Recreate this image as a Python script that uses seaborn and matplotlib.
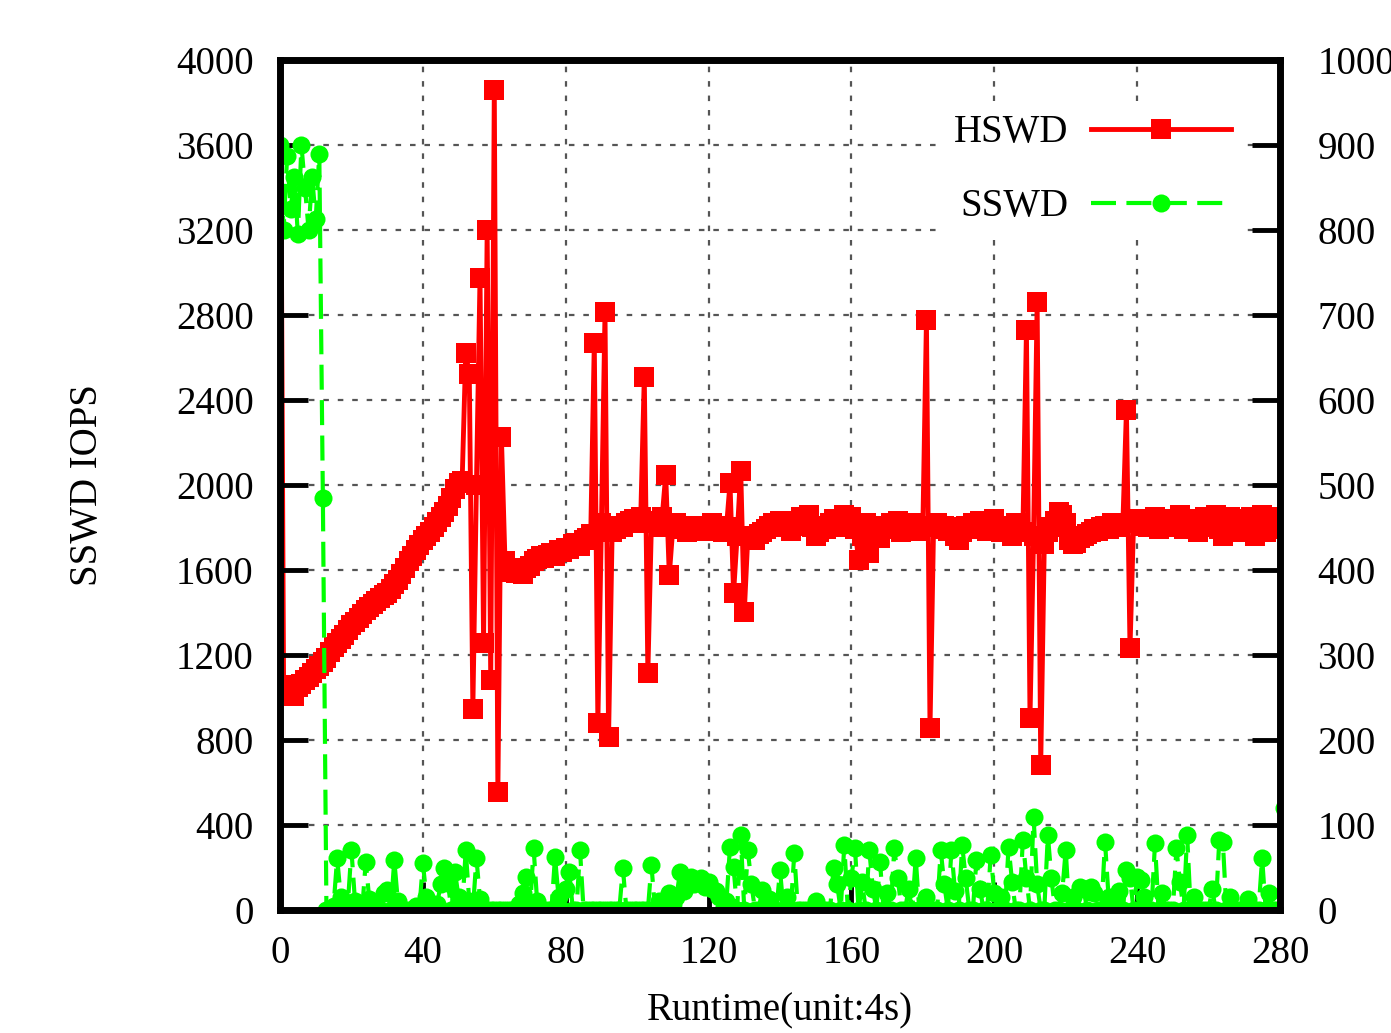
import numpy as np
import pandas as pd
import matplotlib
matplotlib.use("Agg")
import matplotlib.pyplot as plt
import seaborn as sns

# ---------------- data ----------------
runtime_ticks = [0, 40, 80, 120, 160, 200, 240, 280]
sswd_ticks = [0, 400, 800, 1200, 1600, 2000, 2400, 2800, 3200, 3600, 4000]
hswd_ticks = [0, 100, 200, 300, 400, 500, 600, 700, 800, 900, 1000]

# SSWD IOPS (left axis), one value per runtime unit (0..281)
sswd_iops = [
    3600, 3200, 3550, 3300, 3450, 3180, 3600, 3400, 3200, 3450,
    3250, 3560, 1940, 0, 0, 20, 245, 60, 0, 30,
    282, 40, 0, 0, 226, 50, 0, 30, 0, 80,
    94, 0, 235, 40, 0, 0, 0, 0, 20, 0,
    221, 60, 0, 0, 30, 120, 198, 127, 0, 179,
    60, 0, 282, 40, 0, 245, 50, 0, 0, 0,
    0, 0, 0, 0, 0, 0, 0, 30, 80, 155,
    0, 292, 40, 0, 0, 0, 0, 250, 60, 0,
    100, 179, 0, 0, 282, 0, 0, 0, 0, 0,
    0, 0, 0, 0, 0, 0, 198, 0, 0, 0,
    0, 0, 0, 0, 212, 0, 40, 0, 0, 80,
    30, 60, 180, 90, 130, 157, 120, 140, 150, 110,
    130, 100, 90, 60, 0, 40, 298, 200, 0, 353,
    0, 282, 120, 0, 0, 94, 0, 50, 0, 0,
    188, 0, 60, 0, 267, 0, 0, 0, 0, 0,
    40, 0, 0, 0, 0, 196, 120, 0, 306, 0,
    150, 290, 0, 130, 0, 282, 100, 0, 228, 0,
    80, 0, 290, 150, 0, 0, 100, 0, 243, 0,
    0, 60, 0, 0, 0, 282, 120, 0, 282, 90,
    0, 306, 150, 0, 0, 235, 100, 0, 0, 259,
    80, 0, 60, 0, 298, 130, 0, 0, 330, 150,
    0, 439, 120, 0, 0, 353, 150, 0, 0, 80,
    282, 0, 60, 0, 110, 100, 0, 110, 80, 0,
    0, 322, 60, 0, 0, 90, 0, 188, 150, 0,
    157, 141, 60, 0, 0, 314, 0, 80, 0, 0,
    0, 290, 130, 0, 353, 0, 60, 0, 0, 0,
    0, 100, 0, 330, 320, 0, 60, 0, 0, 0,
    0, 50, 0, 0, 0, 245, 0, 80, 0, 0,
    0, 480,
]

# HSWD IOPS (right axis), one value per runtime unit (0..281)
hswd_iops = [
    1100, 265, 256, 258, 252, 262, 266, 270, 274, 279,
    283, 287, 292, 297, 303, 309, 314, 319, 324, 329,
    335, 339, 344, 348, 353, 356, 360, 364, 367, 370,
    373, 378, 383, 388, 395, 402, 410, 417, 423, 429,
    435, 440, 445, 450, 456, 462, 468, 475, 485, 495,
    502, 505, 655, 630, 237, 500, 744, 314, 800, 270,
    965, 139, 556, 410, 402, 398, 396, 400, 395, 402,
    405, 410, 413, 416, 414, 418, 420, 417, 423, 421,
    426, 425, 430, 432, 428, 435, 438, 442, 667, 220,
    455, 703, 204, 445, 448, 452, 450, 455, 458, 460,
    455, 462, 627, 279, 455, 458, 450, 462, 512, 394,
    450, 455, 448, 452, 445, 450, 447, 452, 449, 446,
    450, 455, 448, 452, 445, 450, 502, 373, 440, 517,
    350, 440, 438, 435, 442, 445, 448, 452, 455, 450,
    458, 455, 450, 446, 452, 458, 462, 455, 465, 450,
    440, 445, 452, 448, 455, 460, 450, 458, 465, 455,
    462, 448, 412, 440, 455, 420, 445, 450, 438, 452,
    448, 455, 450, 458, 445, 452, 448, 455, 450, 446,
    452, 694, 214, 450, 455, 448, 452, 446, 450, 440,
    435, 445, 452, 448, 455, 450, 458, 452, 446, 455,
    460, 450, 445, 452, 448, 440, 455, 450, 445, 682,
    226, 440, 715, 170, 430, 445, 450, 458, 468, 465,
    455, 435, 430, 432, 438, 440, 442, 445, 448, 446,
    450, 452, 448, 455, 450, 452, 455, 588, 308, 455,
    460, 452, 458, 450, 455, 462, 448, 452, 458, 460,
    450, 455, 465, 448, 455, 460, 452, 445, 458, 462,
    450, 455, 465, 448, 440, 458, 462, 450, 445, 460,
    452, 448, 462, 440, 455, 465, 445, 458, 450, 462,
    448, 456,
]

sswd_df = pd.DataFrame({"runtime": np.arange(len(sswd_iops)), "iops": sswd_iops})
hswd_df = pd.DataFrame({"runtime": np.arange(len(hswd_iops)), "iops": hswd_iops})

# ---------------- style ----------------
plt.rcParams['font.family'] = ['Liberation Serif', 'DejaVu Serif']
FS = 28

fig = plt.figure(figsize=(13.91, 10.33), dpi=100)
ax = fig.add_axes([0.2013, 0.1191, 0.7189, 0.8228])
ax2 = ax.twinx()

sns.lineplot(data=hswd_df, x="runtime", y="iops", ax=ax2, color="#ff0000",
             marker="s", markersize=14, markeredgewidth=0, linewidth=3.5,
             legend=False)
sns.lineplot(data=sswd_df, x="runtime", y="iops", ax=ax, color="#00ff00",
             marker="o", markersize=13, markeredgewidth=0, linewidth=3,
             linestyle=(0, (6, 2.5)), legend=False)

# green on top of red
ax.set_zorder(ax2.get_zorder() + 1)
ax.patch.set_visible(False)

ax.set_xlim(0, 280)
ax.set_ylim(0, 4000)
ax2.set_ylim(0, 1000)
ax.set_xticks(runtime_ticks)
ax.set_yticks(sswd_ticks)
ax2.set_yticks(hswd_ticks)

# grid drawn on the lower axes so it sits under the data
ax2.xaxis.set_visible(True)
ax2.set_xticks(runtime_ticks)
ax2.tick_params(axis='x', bottom=False, top=False, labelbottom=False, labeltop=False)
ax2.grid(True, color="#555555", linestyle=(0, (2.5, 4)), linewidth=1.6)
ax.grid(False)

ax.set_xlabel("Runtime(unit:4s)", fontsize=FS, labelpad=15)
ax.set_ylabel("SSWD IOPS", fontsize=FS, labelpad=50)
ax2.set_xlabel("")
ax2.set_ylabel("")

ax.tick_params(axis='y', direction='in', length=20, width=3.5, pad=19,
               labelsize=FS, right=False, colors='black')
ax.tick_params(axis='x', direction='in', length=20, width=3.5, pad=18,
               labelsize=FS, top=False, colors='black')
ax2.tick_params(axis='y', direction='in', length=20, width=3.5, pad=27,
                labelsize=FS, colors='black')

for s in ax.spines.values():
    s.set_linewidth(5)
    s.set_color('black')
for s in ax2.spines.values():
    s.set_visible(False)

h_red = ax2.get_lines()[0]
h_green = ax.get_lines()[0]
leg = ax.legend([h_red, h_green], ["HSWD", "SSWD"], loc="center right",
                bbox_to_anchor=(0.965, 0.871), borderaxespad=0, borderpad=0.35,
                markerfirst=False, handlelength=3.6, handletextpad=0.6,
                labelspacing=0.95, fontsize=FS, frameon=True, numpoints=1)
leg.get_frame().set_facecolor('white')
leg.get_frame().set_edgecolor('none')
leg.get_frame().set_alpha(1)

fig.savefig("out.png", dpi=100)
